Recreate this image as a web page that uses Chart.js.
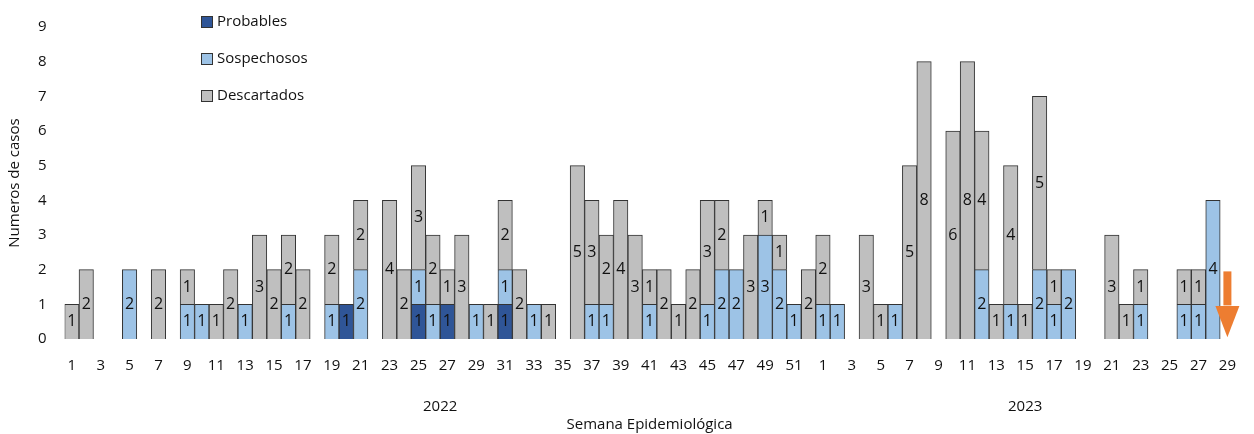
<!DOCTYPE html>
<html>
<head>
<meta charset="utf-8">
<script src="https://cdn.jsdelivr.net/npm/chart.js@4"></script>
<style>
  body { margin: 0; background: #fff; }
  #wrap { width: 1254px; height: 434px; }
</style>
</head>
<body>
<div id="wrap"><canvas id="chart"></canvas></div>
<script>
// weeks 1-52 of 2022, then 1-29 of 2023
var weeks = [];
for (var i = 1; i <= 52; i++) weeks.push(String(i));
for (var j = 1; j <= 29; j++) weeks.push(String(j));

var probables = [
  0,0,0,0,0,0,0,0,0,0, 0,0,0,0,0,0,0,0,0,1, 0,0,0,0,1,0,1,0,0,0,
  1,0,0,0,0,0,0,0,0,0, 0,0,0,0,0,0,0,0,0,0, 0,0,
  0,0,0,0,0,0,0,0,0,0, 0,0,0,0,0,0,0,0,0,0, 0,0,0,0,0,0,0,0,0
];
var sospechosos = [
  0,0,0,0,2,0,0,0,1,1, 0,0,1,0,0,1,0,0,1,0, 2,0,0,0,1,1,0,0,1,0,
  1,0,1,0,0,0,1,1,0,0, 1,0,0,0,1,2,2,0,3,2, 1,0,
  1,1,0,0,0,1,0,0,0,0, 0,2,0,1,0,2,1,2,0,0, 0,0,1,0,0,1,1,4,0
];
var descartados = [
  1,2,0,0,0,0,2,0,1,0, 1,2,0,3,2,2,2,0,2,0, 2,0,4,2,3,2,1,3,0,1,
  2,2,0,1,0,5,3,2,4,3, 1,2,1,2,3,2,0,3,1,1, 0,2,
  2,0,0,3,1,0,5,8,0,6, 8,4,1,4,1,5,1,0,0,0, 3,1,1,0,0,1,1,0,0
];
var years = [{ label: "2022", from: 0, to: 51 }, { label: "2023", from: 52, to: 80 }];

var FONT = "'Open Sans', 'Liberation Sans', sans-serif";

var labelsPlugin = {
  id: "extras",
  afterDatasetsDraw: function(chart) {
    var c = chart.ctx;
    c.save();
    c.fillStyle = "#111";
    c.font = "16px " + FONT;
    c.textAlign = "center";
    c.textBaseline = "middle";
    chart.data.datasets.forEach(function(ds, di) {
      chart.getDatasetMeta(di).data.forEach(function(bar, k) {
        if (!ds.data[k]) return;
        c.fillText(ds.data[k], bar.x, (bar.y + bar.base) / 2);
      });
    });
    // year labels
    var x = chart.scales.x;
    c.font = "15px " + FONT;
    years.forEach(function(y) {
      var mid = (x.getPixelForValue(y.from) + x.getPixelForValue(y.to)) / 2;
      c.fillText(y.label, mid, 407);
    });
    // legend
    var items = [["Probables", "#2F5597"], ["Sospechosos", "#9DC3E6"], ["Descartados", "#BFBFBF"]];
    c.textAlign = "left";
    items.forEach(function(it, n) {
      var yy = 22 + n * 37;
      c.fillStyle = it[1];
      c.fillRect(201, yy - 6, 12, 12);
      c.strokeStyle = "#333";
      c.lineWidth = 1;
      c.strokeRect(201.5, yy - 5.5, 11, 11);
      c.fillStyle = "#111";
      c.fillText(it[0], 217, yy);
    });
    // orange arrow after last week
    var ax = x.getPixelForValue(80), ay = chart.scales.y;
    c.fillStyle = "#ED7D31";
    c.fillRect(ax - 4, ay.getPixelForValue(1.95), 8, 34);
    c.beginPath();
    c.moveTo(ax - 12, ay.getPixelForValue(0.95));
    c.lineTo(ax + 12, ay.getPixelForValue(0.95));
    c.lineTo(ax, ay.getPixelForValue(0.05));
    c.closePath();
    c.fill();
    c.restore();
  }
};

function ds(label, data, color) {
  return {
    label: label, data: data, backgroundColor: color,
    borderColor: "#333", borderWidth: 1,
    barPercentage: 1, categoryPercentage: 1
  };
}

new Chart(document.getElementById("chart"), {
  type: "bar",
  data: {
    labels: weeks,
    datasets: [
      ds("Probables", probables, "#2F5597"),
      ds("Sospechosos", sospechosos, "#9DC3E6"),
      ds("Descartados", descartados, "#BFBFBF")
    ]
  },
  options: {
    responsive: true,
    maintainAspectRatio: false,
    animation: false,
    layout: { padding: { top: 27, right: 4, left: 2, bottom: 0 } },
    plugins: { legend: { display: false }, tooltip: { enabled: false } },
    scales: {
      x: {
        stacked: true,
        grid: { display: false, drawTicks: false },
        border: { display: false },
        ticks: {
          autoSkip: false, maxRotation: 0, color: "#111", padding: 18,
          font: { size: 15, family: FONT },
          callback: function(v, i) { return i % 2 === 0 ? weeks[i] : ""; }
        },
        title: {
          display: true, text: "Semana Epidemiológica", color: "#111",
          font: { size: 15, family: FONT }, padding: { top: 23, bottom: 0 }
        }
      },
      y: {
        stacked: true, min: 0, max: 9,
        grid: { display: false },
        border: { display: false },
        ticks: { stepSize: 1, color: "#111", padding: 10, font: { size: 15, family: FONT } },
        title: {
          display: true, text: "Numeros de casos", color: "#111",
          font: { size: 15, family: FONT }
        }
      }
    }
  },
  plugins: [labelsPlugin]
});
</script>
</body>
</html>
